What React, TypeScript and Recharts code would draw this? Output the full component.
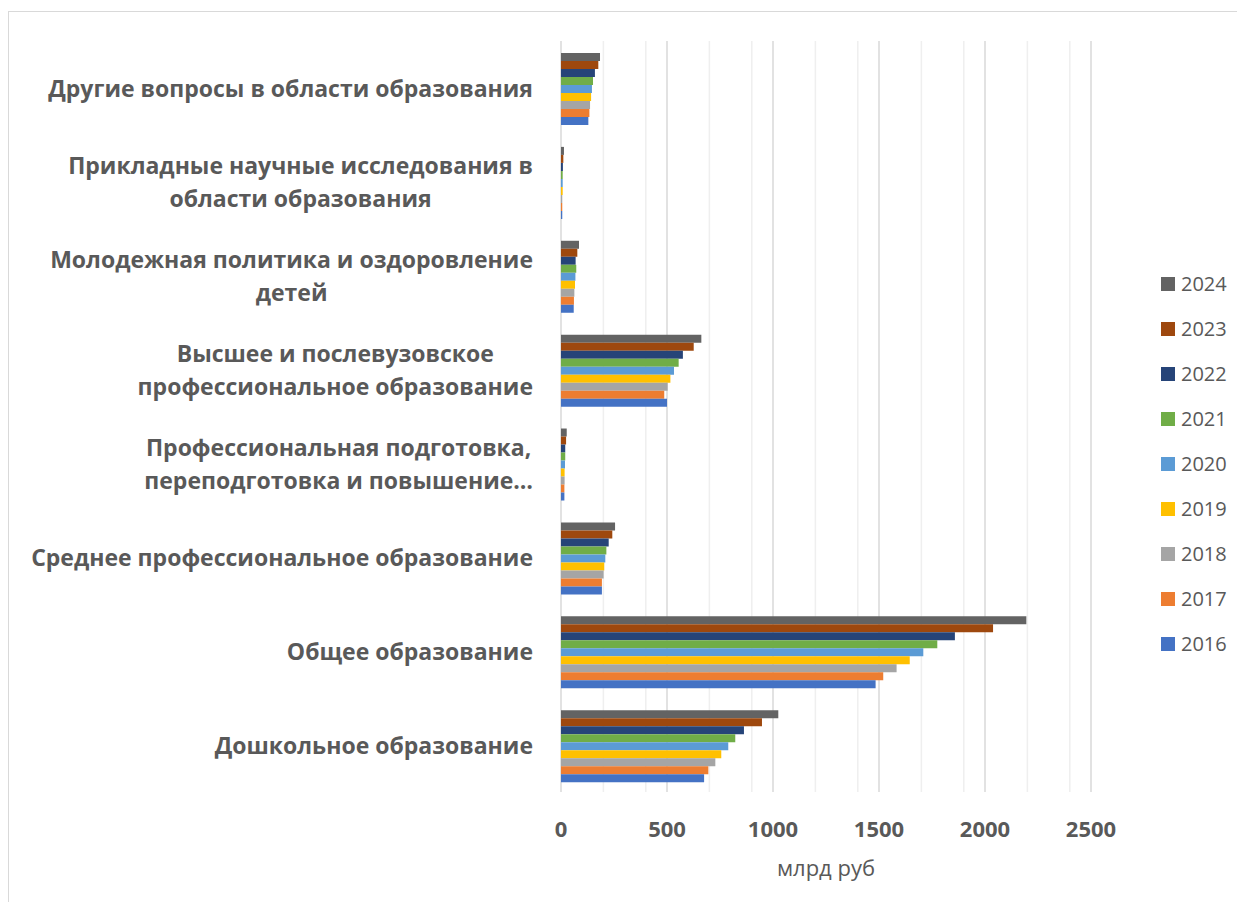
import { Bar, BarChart, CartesianGrid, Label, Legend, XAxis, YAxis } from 'recharts';

// Категории сверху вниз, как на исходной диаграмме
const categories = [
  'Другие вопросы в области образования',
  'Прикладные научные исследования в\nобласти образования',
  'Молодежная политика и оздоровление\nдетей',
  'Высшее и послевузовское\nпрофессиональное образование',
  'Профессиональная подготовка,\nпереподготовка и повышение…',
  'Среднее профессиональное образование',
  'Общее образование',
  'Дошкольное образование',
];

const y2016 = [129, 6, 60, 500, 16, 193, 1484, 675];
const y2017 = [134, 6, 61, 487, 16, 193, 1520, 695];
const y2018 = [137, 6, 63, 503, 17, 201, 1583, 728];
const y2019 = [142, 8, 66, 516, 17, 204, 1645, 756];
const y2020 = [146, 8, 68, 533, 19, 209, 1709, 789];
const y2021 = [151, 8, 72, 555, 20, 214, 1775, 822];
const y2022 = [160, 9, 69, 575, 20, 225, 1858, 863];
const y2023 = [176, 11, 77, 626, 24, 242, 2038, 948];
const y2024 = [184, 14, 85, 662, 27, 255, 2195, 1025];

const xTicks = [0, 500, 1000, 1500, 2000, 2500];
const minorGrid = [100, 200, 300, 400, 600, 700, 800, 900, 1100, 1200, 1300, 1400, 1600, 1700, 1800, 1900, 2100, 2200, 2300, 2400];

// порядок серий: 2024 сверху в группе и в легенде
const SERIES = [
  { key: '2024', values: y2024, color: '#636363' },
  { key: '2023', values: y2023, color: '#9E480E' },
  { key: '2022', values: y2022, color: '#264478' },
  { key: '2021', values: y2021, color: '#70AD47' },
  { key: '2020', values: y2020, color: '#5B9BD5' },
  { key: '2019', values: y2019, color: '#FFC000' },
  { key: '2018', values: y2018, color: '#A5A5A5' },
  { key: '2017', values: y2017, color: '#ED7D31' },
  { key: '2016', values: y2016, color: '#4472C4' },
];

const data = categories.map((name, i) => {
  const row: Record<string, string | number> = { name };
  SERIES.forEach((s) => {
    row[s.key] = s.values[i];
  });
  return row;
});

const TEXT = '#595959';
const FONT = "'Open Sans', sans-serif";
const LABEL_FONT = "700 23px 'Open Sans'";
const LINE_H = 33;

const measureCtx = typeof document !== 'undefined' ? document.createElement('canvas').getContext('2d') : null;

function textWidth(s: string): number {
  if (!measureCtx) return s.length * 13;
  measureCtx.font = LABEL_FONT;
  return measureCtx.measureText(s).width;
}

// подписи категорий: блок прижат вправо, строки внутри по центру
function CategoryTick({ x, y, payload }: any) {
  const lines = String(payload.value).split('\n');
  const blockW = Math.max(...lines.map(textWidth));
  const cx = x - 28 - blockW / 2;
  const start = y - ((lines.length - 1) * LINE_H) / 2;
  return (
    <g>
      {lines.map((line, i) => (
        <text
          key={i}
          x={cx}
          y={start + i * LINE_H}
          textAnchor="middle"
          dominantBaseline="central"
          fill={TEXT}
          fontFamily={FONT}
          fontWeight={700}
          fontSize={23}
        >
          {line}
        </text>
      ))}
    </g>
  );
}

function ValueTick({ x, y, payload }: any) {
  return (
    <text
      x={x}
      y={y + 36}
      textAnchor="middle"
      dominantBaseline="central"
      fill={TEXT}
      fontFamily={FONT}
      fontWeight={700}
      fontSize={22}
    >
      {payload.value}
    </text>
  );
}

// легенда: 2024 сверху, 2016 снизу
function YearLegend({ payload }: any) {
  const items = [...(payload || [])].sort((a: any, b: any) => Number(b.value) - Number(a.value));
  return (
    <div style={{ fontFamily: FONT }}>
      {items.map((p: any) => (
        <div key={p.value} style={{ height: 45, display: 'flex', alignItems: 'center' }}>
          <span style={{ width: 14, height: 14, background: p.color, display: 'inline-block', marginRight: 6 }} />
          <span style={{ fontSize: 20, color: TEXT }}>{p.value}</span>
        </div>
      ))}
    </div>
  );
}

export default function App() {
  return (
    <div style={{ position: 'relative', width: 1236, height: 894 }}>
      <div
        style={{
          position: 'absolute',
          left: 0,
          top: 3,
          width: 1236,
          height: 891,
          borderTop: '1px solid #d9d9d9',
          borderLeft: '1px solid #d9d9d9',
          boxSizing: 'border-box',
        }}
      />
      <div style={{ position: 'absolute', left: 0, top: 0 }}>
        <BarChart
          width={1236}
          height={894}
          data={data}
          layout="vertical"
          margin={{ top: 33, right: 153, bottom: 10, left: 0 }}
          barGap={0}
          barCategoryGap="12.8%"
        >
          <CartesianGrid horizontal={false} verticalValues={minorGrid} stroke="#efefef" strokeWidth={1.5} />
          <CartesianGrid horizontal={false} verticalValues={xTicks} stroke="#d9d9d9" strokeWidth={1.5} />
          <XAxis
            type="number"
            domain={[0, 2500]}
            ticks={xTicks}
            axisLine={false}
            tickLine={false}
            tickSize={0}
            tickMargin={0}
            height={100}
            tick={<ValueTick />}
          >
            <Label
              value="млрд руб"
              position="insideBottom"
              offset={16}
              fill={TEXT}
              fontFamily={FONT}
              fontSize={22}
            />
          </XAxis>
          <YAxis
            type="category"
            dataKey="name"
            width={553}
            axisLine={false}
            tickLine={false}
            tickSize={0}
            tickMargin={0}
            interval={0}
            tick={<CategoryTick />}
          />
          <Legend
            layout="vertical"
            align="center"
            verticalAlign="middle"
            wrapperStyle={{ left: 1153, top: 253, width: 80 }}
            content={<YearLegend />}
          />
          {SERIES.map((s) => (
            <Bar key={s.key} dataKey={s.key} name={s.key} fill={s.color} isAnimationActive={false} />
          ))}
        </BarChart>
      </div>
    </div>
  );
}
